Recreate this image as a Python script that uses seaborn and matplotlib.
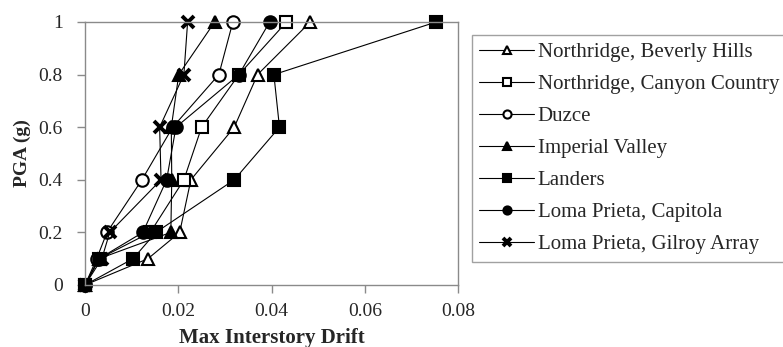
import numpy as np
import pandas as pd
import matplotlib
matplotlib.use("Agg")
import matplotlib.pyplot as plt
import seaborn as sns

pga = [0, 0.1, 0.2, 0.4, 0.6, 0.8, 1.0]
beverly_hills = [0, 0.0135, 0.0203, 0.0227, 0.0320, 0.0370, 0.0483]
canyon_country = [0, 0.0030, 0.0140, 0.0212, 0.0250, 0.0330, 0.0432]
duzce = [0, 0.0025, 0.0047, 0.0122, 0.0188, 0.0287, 0.0317]
imperial_valley = [0, 0.0030, 0.0184, 0.0186, 0.0185, 0.0201, 0.0278]
landers = [0, 0.0103, 0.0152, 0.0320, 0.0417, 0.0405, 0.0753]
capitola = [0, 0.0030, 0.0124, 0.0175, 0.0195, 0.0330, 0.0396]
gilroy = [0, 0.0036, 0.0053, 0.0163, 0.0160, 0.0212, 0.0220]

names = ["Northridge, Beverly Hills", "Northridge, Canyon Country", "Duzce",
         "Imperial Valley", "Landers", "Loma Prieta, Capitola", "Loma Prieta, Gilroy Array"]
series = [beverly_hills, canyon_country, duzce, imperial_valley, landers, capitola, gilroy]
markers = ["^", "s", "o", "^", "s", "o", "x"]
filled = [False, False, False, True, True, True, True]

xticks = [0, 0.02, 0.04, 0.06, 0.08]
yticks = [0, 0.2, 0.4, 0.6, 0.8, 1]

sns.set_theme(style="white")
plt.rcParams['font.family'] = ['Liberation Serif', 'DejaVu Serif']

fig = plt.figure(figsize=(7.83, 3.47), dpi=100)
ax = fig.add_axes([0.1086, 0.1787, 0.585 - 0.1086, 0.9366 - 0.1787])

for name, vals, mk, fl in zip(names, series, markers, filled):
    df = pd.DataFrame({"drift": vals, "pga": pga})
    kw = dict(marker=mk, markersize=9, markeredgecolor="black",
              markerfacecolor="black" if fl else "white",
              markeredgewidth=1.5)
    if mk == "x":
        kw.update(markeredgewidth=2.8, markersize=8.5)
    sns.lineplot(data=df, x="drift", y="pga", sort=False, estimator=None,
                 color="black", linewidth=0.8, label=name, ax=ax, **kw)

ax.set_xlim(0, 0.08)
ax.set_ylim(0, 1)
ax.set_xticks(xticks)
ax.set_xticklabels(["0", "0.02", "0.04", "0.06", "0.08"])
ax.set_yticks(yticks)
ax.set_yticklabels(["0", "0.2", "0.4", "0.6", "0.8", "1"])
for sp in ax.spines.values():
    sp.set_color("#8a8a8a")
    sp.set_linewidth(1.0)
ax.tick_params(axis="both", which="major", labelsize=14, length=6, width=1.0,
               color="#8a8a8a", direction="out", bottom=True, left=True)
ax.tick_params(axis="y", pad=10)
ax.tick_params(axis="x", pad=7)
ax.set_xlabel("Max Interstory Drift", fontsize=15, fontweight="bold", labelpad=6)
ax.set_ylabel("PGA (g)", fontsize=14, fontweight="bold", labelpad=5)
for m in ax.lines:
    m.set_clip_on(False)

leg = ax.legend(loc="upper left", bbox_to_anchor=(0.603, 0.899),
                bbox_transform=fig.transFigure, fontsize=15, frameon=True,
                handlelength=2.6, handletextpad=0.2, labelspacing=0.6,
                markerscale=0.65, borderpad=0.35, borderaxespad=0, fancybox=False)
leg.get_frame().set_edgecolor("#8a8a8a")
leg.get_frame().set_linewidth(1.0)

fig.savefig("out.png", dpi=100)
